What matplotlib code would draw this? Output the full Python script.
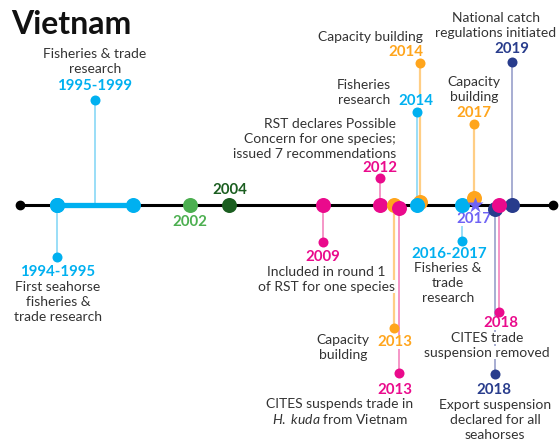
import matplotlib
matplotlib.use("Agg")
import matplotlib.pyplot as plt

plt.rcParams['font.family'] = ['Lato', 'DejaVu Sans']
plt.rcParams['mathtext.fontset'] = 'custom'
plt.rcParams['mathtext.it'] = 'Lato:italic'
plt.rcParams['mathtext.rm'] = 'Lato'

# ---------------- data ----------------
title = "Vietnam"
timeline_start, timeline_end = 1993.05, 2021.1
range_start, range_end = 1995, 1999          # 1995-1999 research period

year_labels = ["1995-1999", "1994-1995", "2002", "2004", "2009", "2012",
               "2013", "2013", "2014", "2014", "2016-2017", "2017",
               "2017", "2018", "2018", "2019"]
anchor_years = [1997, 1995, 2002, 2004, 2009, 2012,
                2013, 2013, 2014, 2014, 2016.5, 2017,
                2017, 2018, 2018, 2019]
descriptions = [
    "Fisheries & trade\nresearch",
    "First seahorse\nfisheries &\ntrade research",
    "",
    "",
    "Included in round 1\nof RST for one species",
    "RST declares Possible\nConcern for one species;\nissued 7 recommendations",
    "Capacity\nbuilding",
    "CITES suspends trade in\n$\\mathit{H.}$ $\\mathit{kuda}$ from Vietnam",
    "Capacity building",
    "Fisheries\nresearch",
    "Fisheries &\ntrade\nresearch",
    "",
    "Capacity\nbuilding",
    "CITES trade\nsuspension removed",
    "Export suspension\ndeclared for all\nseahorses",
    "National catch\nregulations initiated",
]
categories = ["research", "research", "green", "darkgreen", "rst", "rst",
              "capacity", "rst", "capacity", "research", "research", "star",
              "capacity", "rst", "national", "national"]

# ---------------- styles ----------------
dot_colors = {"research": "#00B0F0", "rst": "#EA0A8C", "capacity": "#FFA51C",
              "national": "#283C8C", "green": "#4CAF50", "darkgreen": "#1B5E20",
              "star": "#6F63F5"}
stem_colors = {"research": "#7FD5F5", "rst": "#F279B8", "capacity": "#FFCE85",
               "national": "#8F97C6", "green": "#4CAF50", "darkgreen": "#1B5E20",
               "star": "#B4B0F7"}
text_color = "#333333"

# ---------------- layout (pixel based) ----------------
W, H = 559, 441
X0, PPY = 57, 19          # pixel of 1995, pixels per year
TL_Y = 204.5              # timeline y (px from top)

# per event: year offset of the timeline dot, dot vertical offset, stem end y
dx = [0, 0, 0, 0.05, 0, 0, -0.26, 0, 0.1, -0.05, -0.2, 0, -0.05, 0.26, 0.05, -0.05]
dot_dy = [0, 0, 0, 0, 0, 0, 0, 3, -3, 0, 0, 0, -7, 0, 4, 0]
stem_end = [100, 257, None, None, 242, 178, 328, 373, 63, 112, 241, None, 124, 312, 374, 62]
# year label: (px x, px y, ha)
ylab = [(95, 86, 'center'), (58, 272, 'center'), (190, 222, 'center'),
        (230, 190, 'center'), (323, 257, 'center'), (380, 168, 'center'),
        (395, 342, 'center'), (395, 390, 'center'), (423, 52, 'right'),
        (416, 101, 'center'), (449, 254, 'center'), (474, 219, 'center'),
        (474, 113, 'center'), (501, 323, 'center'), (494, 390, 'center'),
        (512, 49, 'center')]
# description: (px x, first line px y, ha)
dlab = [(95, 54, 'center'), (58, 287, 'center'), None, None,
        (326, 272, 'center'), (396, 124, 'right'), (343, 340, 'center'),
        (340, 404, 'center'), (423, 37, 'right'), (364, 85, 'center'),
        (448, 268, 'center'), None, (474, 82, 'center'),
        (487, 338, 'center'), (495, 405, 'center'), (496, 18, 'center')]
LINE_STEP = 14.8
draw_order = [0, 1, 2, 3, 4, 5, 6, 7, 8, 9, 10, 12, 11, 14, 15, 13]

BODY_FS = 10.0
YEAR_FS = 10.8

fig = plt.figure(figsize=(W / 100, H / 100), dpi=100)
ax = fig.add_axes([0, 0, 1, 1])
ax.set_xlim(1995 - X0 / PPY, 1995 + (W - X0) / PPY)
ax.set_ylim(H, 0)
ax.axis('off')


def xp(px):
    return 1995 + (px - X0) / PPY


bbox = dict(facecolor='white', edgecolor='none', pad=0.3)

# title
ax.text(xp(11), 24, title, fontsize=23, fontweight='bold', color='#111111',
        ha='left', va='center')

# timeline
ax.plot([timeline_start, timeline_end], [TL_Y, TL_Y], color='black', lw=2.2,
        zorder=3, solid_capstyle='butt')
ax.plot([timeline_start, timeline_end], [TL_Y, TL_Y], 'o', color='black',
        ms=6, zorder=3)
ax.plot([range_start, range_end], [TL_Y, TL_Y], color=dot_colors["research"],
        lw=3.8, zorder=4, solid_capstyle='butt')

for i in draw_order:
    cat = categories[i]
    x = anchor_years[i] + dx[i]
    y = TL_Y + dot_dy[i]
    # stem
    if stem_end[i] is not None:
        lw = 1.6 if cat == "capacity" else 1.1
        ax.plot([x, x], [y, stem_end[i]], color=stem_colors[cat], lw=lw, zorder=1)
        ax.plot([x], [stem_end[i]], 'o', color=dot_colors[cat], ms=7.2,
                mec='none', zorder=6)
    # timeline dot
    if i == 0:
        for rx in (range_start, range_end):
            ax.plot([rx], [TL_Y], 'o', color=dot_colors[cat], ms=10.8,
                    mec='none', zorder=10 + i)
    elif cat == "star":
        ax.plot([x], [y], '*', color=dot_colors[cat], ms=12, mec='none',
                zorder=10 + draw_order.index(i))
    else:
        ax.plot([x], [y], 'o', color=dot_colors[cat], ms=10.8, mec='none',
                zorder=10 + draw_order.index(i))
    # year label
    lx, ly, ha = ylab[i]
    ax.text(xp(lx), ly, year_labels[i], fontsize=YEAR_FS, fontweight='bold',
            color=dot_colors[cat], ha=ha, va='center', bbox=bbox, zorder=5)
    # description
    if dlab[i] is not None:
        tx, ty, ha = dlab[i]
        for k, line in enumerate(descriptions[i].split("\n")):
            ax.text(xp(tx), ty + k * LINE_STEP, line, fontsize=BODY_FS,
                    color=text_color, ha=ha, va='center', bbox=bbox, zorder=5)

fig.savefig("out.png", dpi=100)
